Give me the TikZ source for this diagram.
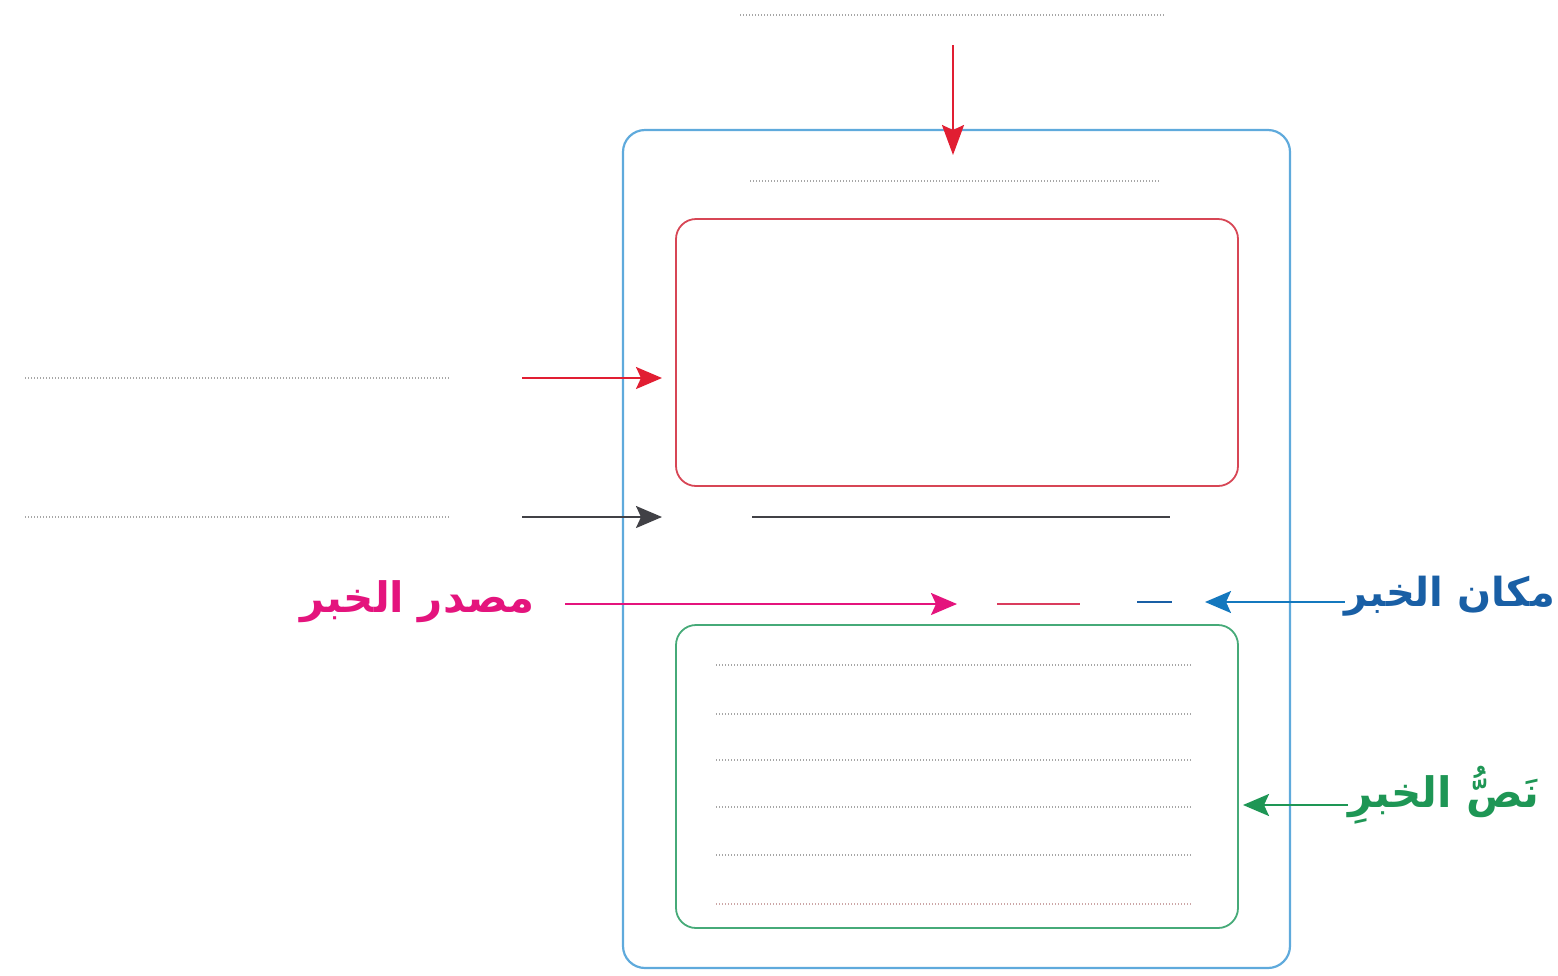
\documentclass[tikz,border=0pt]{standalone}
\usepackage{fontspec}
\newfontfamily\arabicfont[Script=Arabic]{DejaVu Sans}
\TeXXeTstate=1
\usepackage{xcolor}
\usetikzlibrary{positioning,arrows.meta}
\definecolor{frameblue}{RGB}{95,170,220}
\definecolor{newsred}{RGB}{225,30,50}
\definecolor{boxred}{RGB}{215,70,85}
\definecolor{newsgreen}{RGB}{30,150,85}
\definecolor{boxgreen}{RGB}{70,170,120}
\definecolor{newspink}{RGB}{228,20,125}
\definecolor{lblblue}{RGB}{25,95,165}
\definecolor{arrblue}{RGB}{20,120,190}
\definecolor{newsgray}{RGB}{65,65,70}
\tikzset{
  news frame/.style={rectangle, draw=frameblue, line width=2.2pt, rounded corners=22pt, minimum width=667pt, minimum height=838pt},
  news box/.style={rectangle, line width=1.8pt, rounded corners=20pt, minimum width=562pt},
  write line/.style={draw=gray!70, line width=1.3pt, dash pattern=on 1pt off 2pt},
  news arrow/.style={line width=2.2pt, -{Stealth[length=26pt,width=22pt,inset=5pt]}},
  news label/.style={font=\arabicfont\bfseries\fontsize{42}{48}\selectfont, inner sep=0pt}
}
\begin{document}
\begin{tikzpicture}[x=1pt, y=-1pt]
    \useasboundingbox (0,0) rectangle (1558,975);

    % Page frame
    \node [news frame] (page) at (956.5,549) {};
    \node [news box, draw=boxred, minimum height=267pt] (headbox) at (957,352.5) {};
    \node [news box, draw=boxgreen, minimum height=303pt] (textbox) at (957,776.5) {};

    % Title line
    \coordinate (title1) at (740,15);
    \coordinate (title2) at (1165,15);
    \draw [write line] (title1) -- (title2);
    \coordinate (titlefrom) at (953,45);
    \coordinate (titleto) at (953,155);
    \draw [news arrow, newsred, -{Stealth[length=30pt,width=22pt,inset=5pt]}] (titlefrom) -- (titleto);
    \coordinate (sub1) at (750,181);
    \coordinate (sub2) at (1160,181);
    \draw [write line] (sub1) -- (sub2);

    % Picture answer
    \coordinate (pic1) at (25,378);
    \coordinate (pic2) at (450,378);
    \draw [write line] (pic1) -- (pic2);
    \coordinate (picfrom) at (522,378);
    \coordinate (picto) at (662,378);
    \draw [news arrow, newsred] (picfrom) -- (picto);

    % Caption answer
    \coordinate (cap1) at (25,517);
    \coordinate (cap2) at (450,517);
    \draw [write line] (cap1) -- (cap2);
    \coordinate (capfrom) at (522,517);
    \coordinate (capto) at (662,517);
    \draw [news arrow, newsgray] (capfrom) -- (capto);
    \coordinate (capline1) at (752,517);
    \coordinate (capline2) at (1170,517);
    \draw [newsgray, line width=2.2pt] (capline1) -- (capline2);

    % Source and place
    \node [news label, text=newspink, anchor=east] (srclbl) at (535,602) {\beginR مصدر الخبر\endR};
    \coordinate (srcfrom) at (565,604);
    \coordinate (srcto) at (957,604);
    \draw [news arrow, newspink] (srcfrom) -- (srcto);
    \coordinate (src1) at (997,604);
    \coordinate (src2) at (1080,604);
    \draw [boxred!80!newspink, line width=2.2pt] (src1) -- (src2);
    \coordinate (plc1) at (1137,602);
    \coordinate (plc2) at (1172,602);
    \draw [lblblue, line width=2.2pt] (plc1) -- (plc2);
    \node [news label, font=\arabicfont\bfseries\fontsize{40}{46}\selectfont, text=lblblue, anchor=east] (plclbl) at (1555,596) {\beginR مكان الخبر\endR};
    \coordinate (plcto) at (1205,602);
    \draw [news arrow, arrblue] (plclbl.west |- plcto) -- (plcto);

    % Body lines
    \foreach \y in {665,714,760,807,855}
        \draw [write line] (716,\y) -- (1192,\y);
    \draw [write line, draw=pink!60!gray] (716,904) -- (1192,904);
    \node [news label, text=newsgreen, anchor=west] (bodylbl) at (1348,795) {\beginR نَصُّ الخبرِ\endR};
    \coordinate (bodyto) at (1243,805);
    \draw [news arrow, newsgreen] (bodylbl.west |- bodyto) -- (bodyto);
\end{tikzpicture}
\end{document}
